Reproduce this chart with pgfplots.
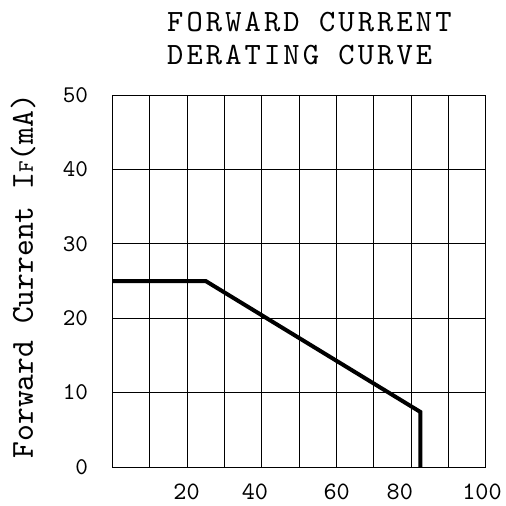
\documentclass[border=0pt]{standalone}
\usepackage{fontspec}
\usepackage{pgfplots}
\pgfplotsset{compat=1.18}

% thin serif typewriter face, close to the CAD lettering of the sheet
\newfontfamily\cad{lmmono10-regular.otf}
\newfontfamily\cadwide[LetterSpace=10]{lmmono10-regular.otf}

\begin{document}
\begin{tikzpicture}
\begin{axis}[
    scale only axis,
    width=373.4bp, height=372bp,
    at={(0,0)}, anchor=south west,
    xmin=0, xmax=100,
    ymin=0, ymax=50,
    xtick={0,10,...,100},
    xticklabels={},
    ytick={0,10,...,50},
    major tick length=0pt,
    grid=major,
    grid style={black, line width=0.8bp},
    axis line style={black, line width=0.9bp},
    /pgf/number format/assume math mode=true,
    extra x ticks={19.9,38.2,60.1,77.0,99.0},
    extra x tick labels={20,40,60,80,100},
    extra x tick style={grid=none, major tick length=0pt},
    xticklabel style={anchor=north, inner sep=0pt, yshift=-17bp,
        font=\fontsize{25bp}{26bp}\cad},
    yticklabel style={anchor=east, inner sep=0pt, xshift=-24bp,
        font=\fontsize{24bp}{26bp}\cad},
    title={FORWARD CURRENT\\DERATING CURVE},
    title style={at={(rel axis cs:0.1465,1.067)}, anchor=base west,
        align=left, inner sep=0pt,
        font=\fontsize{31bp}{33bp}\cadwide},
    ylabel={Forward Current I{\fontsize{22bp}{26bp}\cad F}(mA)},
    ylabel style={at={(rel axis cs:-0.2124,0.513)}, anchor=base,
        inner sep=0pt, font=\fontsize{32bp}{36bp}\cad},
]
\addplot[black, line width=4bp, line join=miter] coordinates {
    (0,25) (25,25) (82.5,7.4) (82.5,0)
};
\end{axis}
\pgfresetboundingbox
\path[use as bounding box] (-112.3bp,-39bp) rectangle (393.7bp,467bp);
\end{tikzpicture}
\end{document}
